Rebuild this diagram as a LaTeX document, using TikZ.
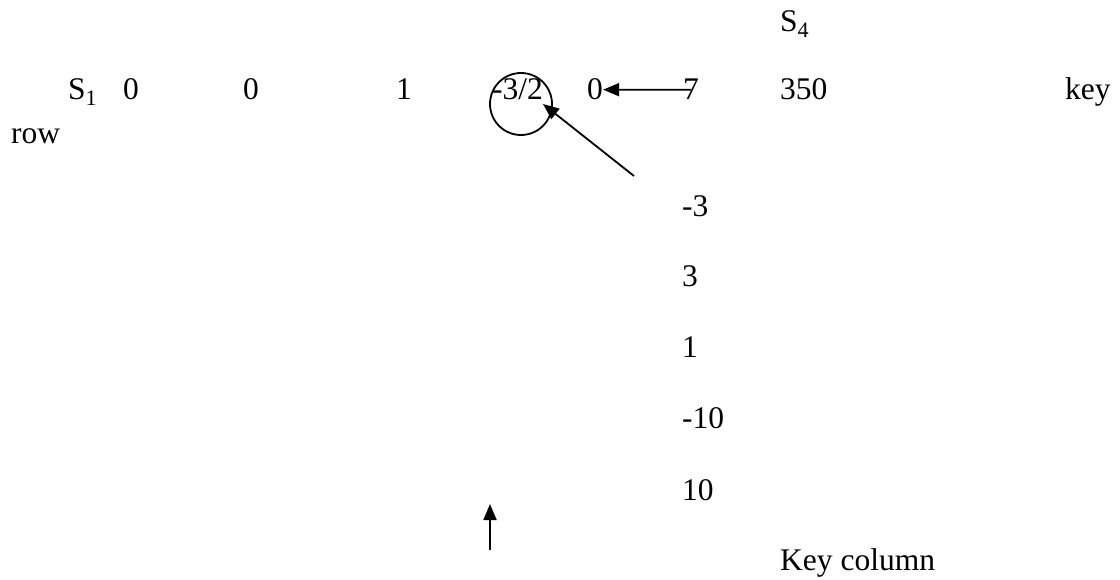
\documentclass[tikz,border=0pt]{standalone}
\usepackage{fontspec}
\setmainfont{Liberation Serif}
\usetikzlibrary{arrows.meta}
\begin{document}
\begin{tikzpicture}[x=1pt,y=-1pt,
  txt/.style={anchor=base west,inner sep=0pt,font=\fontsize{31.5}{38}\selectfont},
  arr/.style={line width=1.8pt,-{Triangle[length=16pt,width=13pt]}},
  ring/.style={circle,draw,line width=1.8pt,minimum size=62pt,inner sep=0pt}]
\useasboundingbox (0,0) rectangle (1120,580);
\node[txt] (s4) at (780,32) {S\textsubscript{4}};
\node[txt] (s1) at (68,100) {S\textsubscript{1}};
\node[txt] (z1) at (123,100) {0};
\node[txt] (z2) at (243,100) {0};
\node[txt] (o3) at (396,100) {1};
\node[txt] (f4) at (492,100) {-3/2};
\node[txt] (z5) at (587,100) {0};
\node[txt] (seven) at (683,100) {7};
\node[txt] (rhs) at (780,100) {350};
\node[txt] (key) at (1065,100) {key};
\node[txt] (row) at (11,144) {row};
\node[ring] (circ) at (521,104) {};
\node[txt] (c1) at (682,217) {-3};
\node[txt] (c2) at (682,287) {3};
\node[txt] (c3) at (682,357) {1};
\node[txt] (c4) at (682,428) {-10};
\node[txt] (c5) at (682,500) {10};
\node[txt] (kc) at (780,570) {Key column};
\coordinate (dstart) at (634,176);
\coordinate (dtip) at (543,104);
\coordinate (ustart) at (490,550);
\coordinate (utip) at (490,504);
\draw[arr] (seven.center) -- (z5.east);
\draw[arr] (dstart) -- (dtip);
\draw[arr] (ustart) -- (utip);
\end{tikzpicture}
\end{document}
